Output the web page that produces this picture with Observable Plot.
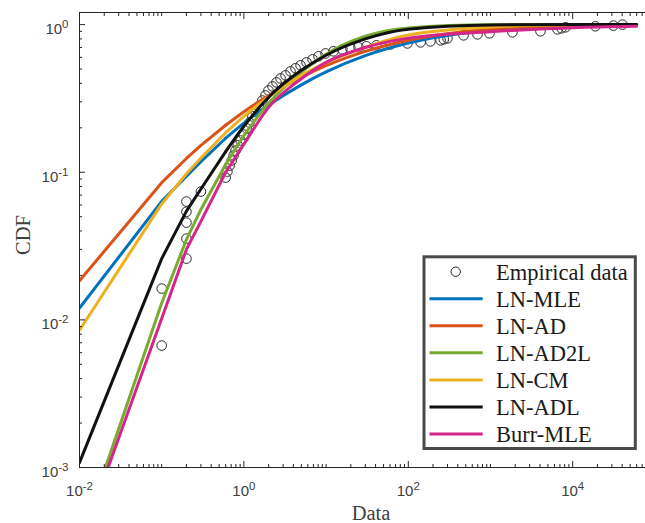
<!DOCTYPE html>
<html><head><meta charset="utf-8">
<script src="https://cdn.jsdelivr.net/npm/d3@7"></script>
<script src="https://cdn.jsdelivr.net/npm/@observablehq/plot@0.6"></script>
<style>
body{margin:0;background:#fff;}
#chart{position:relative;width:645px;height:523px;}
</style></head><body><div id="chart"></div>
<script>
// Empirical data (x, CDF)
const empiricalX = [0.1,0.1,0.2,0.2,0.2,0.2,0.2,0.3,0.6,0.63,0.67,0.71,0.75,0.79,0.84,0.91,0.99,1.08,1.17,1.27,1.38,1.51,1.68,1.83,1.99,2.23,2.49,2.79,3.21,3.69,4.25,4.89,5.78,6.84,8.09,9.84,12.3,15.8,19.8,24.8,31.0,41.0,60.7,97.7,141,186,247,270,300,470,695,973,1850,4060,6530,7300,8170,18900,31300,40400];
const empiricalY = [0.0067,0.0163,0.026,0.0355,0.0456,0.054,0.0633,0.074,0.092,0.101,0.111,0.120,0.130,0.140,0.152,0.164,0.180,0.198,0.217,0.239,0.258,0.279,0.306,0.331,0.358,0.381,0.406,0.432,0.453,0.482,0.506,0.530,0.555,0.582,0.610,0.638,0.659,0.680,0.690,0.702,0.713,0.724,0.735,0.746,0.758,0.770,0.782,0.795,0.807,0.846,0.859,0.873,0.887,0.901,0.929,0.944,0.959,0.974,0.985,1.0];

// Fitted curves
const seriesNames = ["LN-MLE","LN-AD","LN-AD2L","LN-CM","LN-ADL","Burr-MLE"];
const seriesColors = ["#0072BD","#D95319","#77AC30","#EDB120","#111111","#D4258A"];
const startX = [0.01, 0.01, 0.0207, 0.01, 0.01, 0.0223];
const startY = [0.0120, 0.0184, 0.001, 0.0085, 0.00108, 0.001];
const gridX = [0.1, 0.2, 0.3, 0.6, 1, 2, 5, 10, 30, 100, 1000, 10000, 60000];
const lnMLE   = [0.0635, 0.094, 0.118, 0.17, 0.215, 0.285, 0.391, 0.478, 0.616, 0.75, 0.92, 0.984, 0.997];
const lnAD    = [0.085, 0.124, 0.152, 0.208, 0.257, 0.331, 0.44, 0.527, 0.659, 0.784, 0.934, 0.987, 0.997];
const lnAD2L  = [0.013, 0.035, 0.056, 0.113, 0.177, 0.293, 0.475, 0.63, 0.834, 0.95, 0.998, 1.0, 1.0];
const lnCM    = [0.061, 0.0977, 0.125, 0.185, 0.239, 0.324, 0.451, 0.552, 0.702, 0.85, 0.965, 0.996, 0.9996];
const lnADL   = [0.026, 0.0545, 0.077, 0.138, 0.205, 0.322, 0.49, 0.62, 0.80, 0.93, 0.995, 1.0, 1.0];
const burrMLE = [0.0102, 0.030, 0.0465, 0.1, 0.155, 0.275, 0.43, 0.555, 0.70, 0.81, 0.895, 0.953, 0.974];
const seriesValues = [lnMLE, lnAD, lnAD2L, lnCM, lnADL, burrMLE];
const smoothFrom = 0.6; // sparse data below: straight segments; dense data above: smooth

// Axes
const xDomain = [0.01, 76900];
const yDomain = [0.001, 1.208];
const xMajorTicks = [1e-2, 1e0, 1e2, 1e4];
const xTickLabels = ["10^-2", "10^0", "10^2", "10^4"];
const yMajorTicks = [1e-3, 1e-2, 1e-1, 1e0];
const yTickLabels = ["10^-3", "10^-2", "10^-1", "10^0"];
const xDecades = [-2, -1, 0, 1, 2, 3, 4];
const yDecades = [-3, -2, -1, 0];
const minorMultipliers = [1, 2, 3, 4, 5, 6, 7, 8, 9];

const xMinorTicks = [];
for (const d of xDecades) for (const m of minorMultipliers) {
  const v = m * Math.pow(10, d);
  if (!xMajorTicks.some(t => Math.abs(t - v) < 1e-12 * v) && v <= xDomain[1]) xMinorTicks.push(v);
}
const yMinorTicks = [];
for (const d of yDecades) for (const m of minorMultipliers) {
  const v = m * Math.pow(10, d);
  if (m > 1 && v <= yDomain[1]) yMinorTicks.push(v);
}

const empRows = empiricalX.map((x, i) => ({x, y: empiricalY[i]}));
const curveRows = [];
seriesNames.forEach((name, s) => {
  curveRows.push({x: startX[s], y: startY[s], series: name});
  gridX.forEach((x, i) => curveRows.push({x, y: seriesValues[s][i], series: name}));
});
const lowRows = curveRows.filter(d => d.x <= smoothFrom);
const highRows = curveRows.filter(d => d.x >= smoothFrom);

const axisColor = "#262626";
const labelColor = "#404040";
const tickFont = "Liberation Sans, Arial, sans-serif";
const noText = () => "";

const plot = Plot.plot({
  width: 645,
  height: 523,
  marginLeft: 79,
  marginRight: 0,
  marginTop: 12,
  marginBottom: 56,
  style: {background: "white", overflow: "visible"},
  x: {type: "log", domain: xDomain},
  y: {type: "log", domain: yDomain},
  color: {domain: seriesNames, range: seriesColors},
  marks: [
    Plot.dot(empRows, {x: "x", y: "y", r: 4.8, stroke: "#262626", strokeWidth: 1, fill: "none", clip: true}),
    Plot.line(lowRows, {x: "x", y: "y", z: "series", stroke: "series", strokeWidth: 3, curve: "linear", clip: true}),
    Plot.line(highRows, {x: "x", y: "y", z: "series", stroke: "series", strokeWidth: 3, curve: "monotone-x", clip: true}),
    // frame lines
    Plot.ruleY([yDomain[0], yDomain[1]], {stroke: axisColor, strokeWidth: 1}),
    Plot.ruleX([xDomain[0]], {stroke: axisColor, strokeWidth: 1}),
    // inward ticks
    Plot.axisX(xMajorTicks, {anchor: "bottom", tickSize: -6, tickFormat: noText, stroke: axisColor, label: null}),
    Plot.axisX(xMinorTicks, {anchor: "bottom", tickSize: -3, tickFormat: noText, stroke: axisColor, label: null}),
    Plot.axisX(xMajorTicks, {anchor: "top", tickSize: -6, tickFormat: noText, stroke: axisColor, label: null}),
    Plot.axisX(xMinorTicks, {anchor: "top", tickSize: -3, tickFormat: noText, stroke: axisColor, label: null}),
    Plot.axisY(yMajorTicks, {anchor: "left", tickSize: -6, tickFormat: noText, stroke: axisColor, label: null}),
    Plot.axisY(yMinorTicks, {anchor: "left", tickSize: -3, tickFormat: noText, stroke: axisColor, label: null}),
    // labels
    Plot.axisX(xMajorTicks, {anchor: "bottom", tickSize: 0, tickPadding: 17.5, fontSize: 15, fontFamily: tickFont, fill: labelColor,
      tickFormat: (d) => xTickLabels[xMajorTicks.indexOf(d)], label: null}),
    Plot.axisY(yMajorTicks, {anchor: "left", tickSize: 0, tickPadding: 11, fontSize: 15, fontFamily: tickFont, fill: labelColor,
      tickFormat: (d) => yTickLabels[yMajorTicks.indexOf(d)], label: null})
  ]
});

const svg = d3.select(plot);
// superscripts
function supify(sel, shiftMain) {
  sel.each(function() {
    const t = d3.select(this);
    const s = t.text();
    const parts = s.split("^");
    if (parts.length !== 2) return;
    t.text("");
    t.append("tspan").attr("dy", shiftMain).text(parts[0]);
    t.append("tspan").attr("dy", -6).attr("font-size", 11.5).text(parts[1]);
  });
}
supify(svg.selectAll('g[aria-label="x-axis tick label"] text'), 0);
supify(svg.selectAll('g[aria-label="y-axis tick label"] text'), 4.5);

// axis titles
svg.append("text").attr("x", 371).attr("y", 520).attr("text-anchor", "middle")
  .attr("font-family", "Liberation Serif, Times New Roman, serif").attr("font-size", 20.5)
  .attr("fill", labelColor).text("Data");
svg.append("text").attr("transform", "translate(30,235) rotate(-90)").attr("text-anchor", "middle")
  .attr("font-family", "Liberation Serif, Times New Roman, serif").attr("font-size", 20.5)
  .attr("fill", labelColor).text("CDF");

// legend
const lg = svg.append("g").attr("font-family", "Liberation Serif, Times New Roman, serif")
  .attr("font-size", 22.5).attr("text-anchor", "start");
lg.append("rect").attr("x", 424).attr("y", 256.8).attr("width", 211.3).attr("height", 191.7)
  .attr("fill", "white").attr("stroke", "#4a4a4a").attr("stroke-width", 3);
const legendEntries = ["Empirical data", ...seriesNames];
legendEntries.forEach((name, i) => {
  const cy = 271.7 + i * 27.05;
  if (i === 0) {
    lg.append("circle").attr("cx", 455.7).attr("cy", cy).attr("r", 4.7).attr("fill", "none").attr("stroke", "#262626");
  } else {
    lg.append("line").attr("x1", 429.5).attr("x2", 482.7).attr("y1", cy).attr("y2", cy)
      .attr("stroke", seriesColors[i - 1]).attr("stroke-width", 3);
  }
  lg.append("text").attr("x", 496).attr("y", cy + 8).attr("text-anchor", "start").attr("fill", "#1a1a1a").text(name);
});

document.getElementById("chart").appendChild(plot);
</script></body></html>
